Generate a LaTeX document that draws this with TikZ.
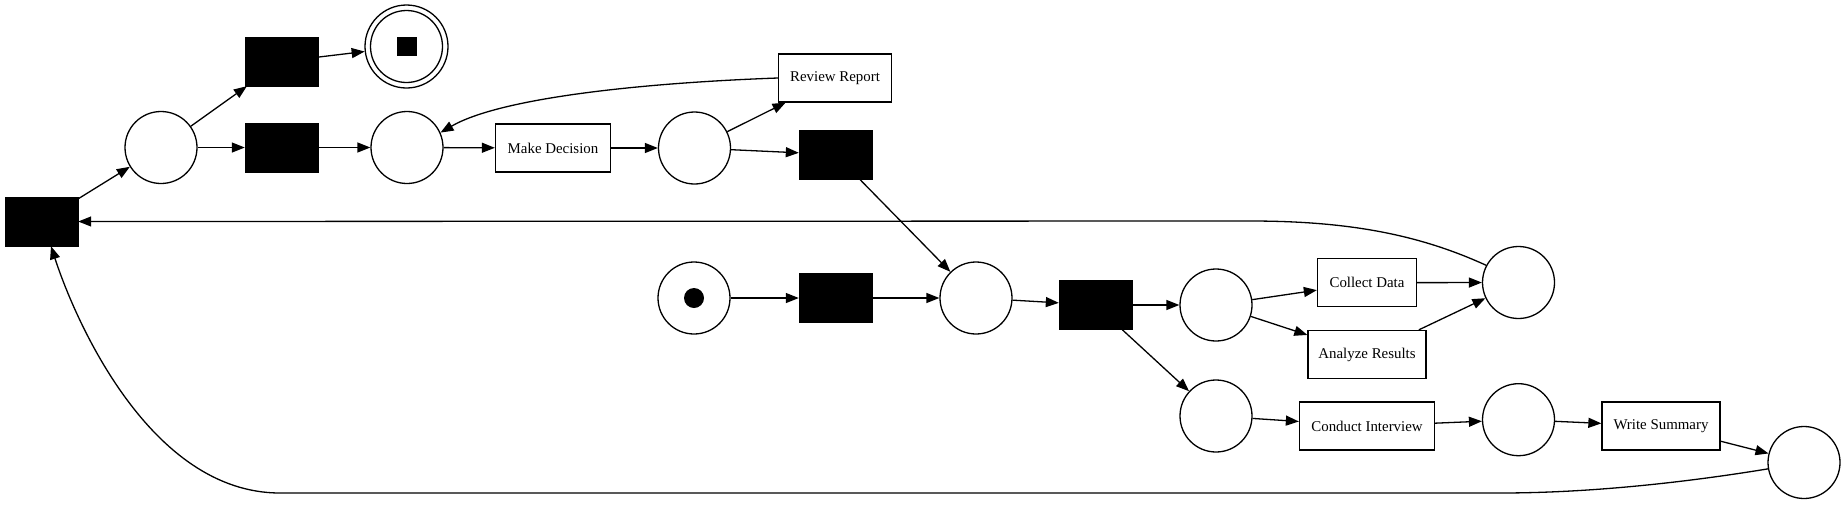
\documentclass[tikz,border=0pt]{standalone}
\usepackage{fontspec}
\setmainfont{Liberation Serif}
\usetikzlibrary{arrows.meta}
\begin{document}
\begin{tikzpicture}[x=1pt,y=-1pt,
  pl/.style={circle,draw,line width=1.3pt,minimum size=72pt,inner sep=0pt},
  tr/.style={rectangle,fill=black,draw=black,minimum width=73pt,minimum height=49pt,inner sep=0pt},
  lb/.style={rectangle,draw,line width=1.3pt,minimum height=48pt,inner sep=0pt,font=\fontsize{14.9}{17}\selectfont},
  arr/.style={line width=1.3pt,-{Triangle[length=13pt,width=10pt]}}
]
\useasboundingbox (0,0) rectangle (1845,504);
% transitions
\node[tr] (T0) at (41.5,221.5) {};
\node[tr] (Tend) at (281.5,61.5) {};
\node[tr] (T2) at (281.5,147.5) {};
\node[tr] (T3) at (835.5,154.5) {};
\node[tr] (Tstart) at (835.5,298) {};
\node[tr] (Tsplit) at (1095.5,305) {};
% places
\node[pl] (P1) at (161,147.5) {};
\node[pl] (P2) at (407,147.5) {};
\node[pl] (P3) at (694.5,148) {};
\node[pl] (Pstart) at (694,298) {};
\node[pl] (P4) at (976,298) {};
\node[pl] (P5) at (1216,305) {};
\node[pl] (P6) at (1216,416) {};
\node[pl] (P7) at (1518.5,282.5) {};
\node[pl] (P8) at (1518.5,419.7) {};
\node[pl] (P9) at (1804,462.5) {};
\node[pl,minimum size=83pt] (Pfin) at (406.5,46.5) {};
\node[circle,draw,line width=1.3pt,minimum size=72pt,inner sep=0pt] (Pfinin) at (Pfin) {};
\node[rectangle,fill=black,minimum width=20pt,minimum height=19pt,inner sep=0pt] (Tok2) at (Pfin) {};
\node[circle,fill=black,minimum size=20pt,inner sep=0pt] (Tok1) at (Pstart) {};
% labelled transitions
\node[lb,minimum width=115pt] (MD) at (553,148) {Make Decision};
\node[lb,minimum width=113pt] (RR) at (835,78) {Review Report};
\node[lb,minimum width=99pt] (CD) at (1367,282.7) {Collect Data};
\node[lb,minimum width=118pt] (AR) at (1367,354.5) {Analyze Results};
\node[lb,minimum width=135pt] (CI) at (1367,426) {Conduct Interview};
\node[lb,minimum width=118pt] (WS) at (1661,426) {Write Summary};
% arcs
\draw[arr] (T0) -- (P1);
\draw[arr] (P1) -- (Tend);
\draw[arr] (P1) -- (T2);
\draw[arr] (Tend) -- (Pfin);
\draw[arr] (T2) -- (P2);
\draw[arr] (P2) -- (MD);
\draw[arr] (MD) -- (P3);
\draw[arr] (P3) -- (RR);
\draw[arr] (P3) -- (T3);
\draw[arr] (RR.west) .. controls (640,83) and (500,98) .. (P2.24);
\draw[arr] (T3) -- (P4);
\draw[arr] (Pstart) -- (Tstart);
\draw[arr] (Tstart) -- (P4);
\draw[arr] (P4) -- (Tsplit);
\draw[arr] (Tsplit) -- (P5);
\draw[arr] (Tsplit) -- (P6);
\draw[arr] (P5) -- (CD);
\draw[arr] (P5) -- (AR);
\draw[arr] (CD) -- (P7);
\draw[arr] (AR) -- (P7);
\draw[arr] (P7.152) .. controls (1420,235) and (1350,221) .. (1250,221) -- (T0.east);
\draw[arr] (P6) -- (CI);
\draw[arr] (CI) -- (P8);
\draw[arr] (P8) -- (WS);
\draw[arr] (WS) -- (P9);
\draw[arr] (P9.190) .. controls (1700,480) and (1600,493) .. (1500,493) -- (280,493) .. controls (150,493) and (75,320) .. ([xshift=9.5pt]T0.south);
\end{tikzpicture}
\end{document}
